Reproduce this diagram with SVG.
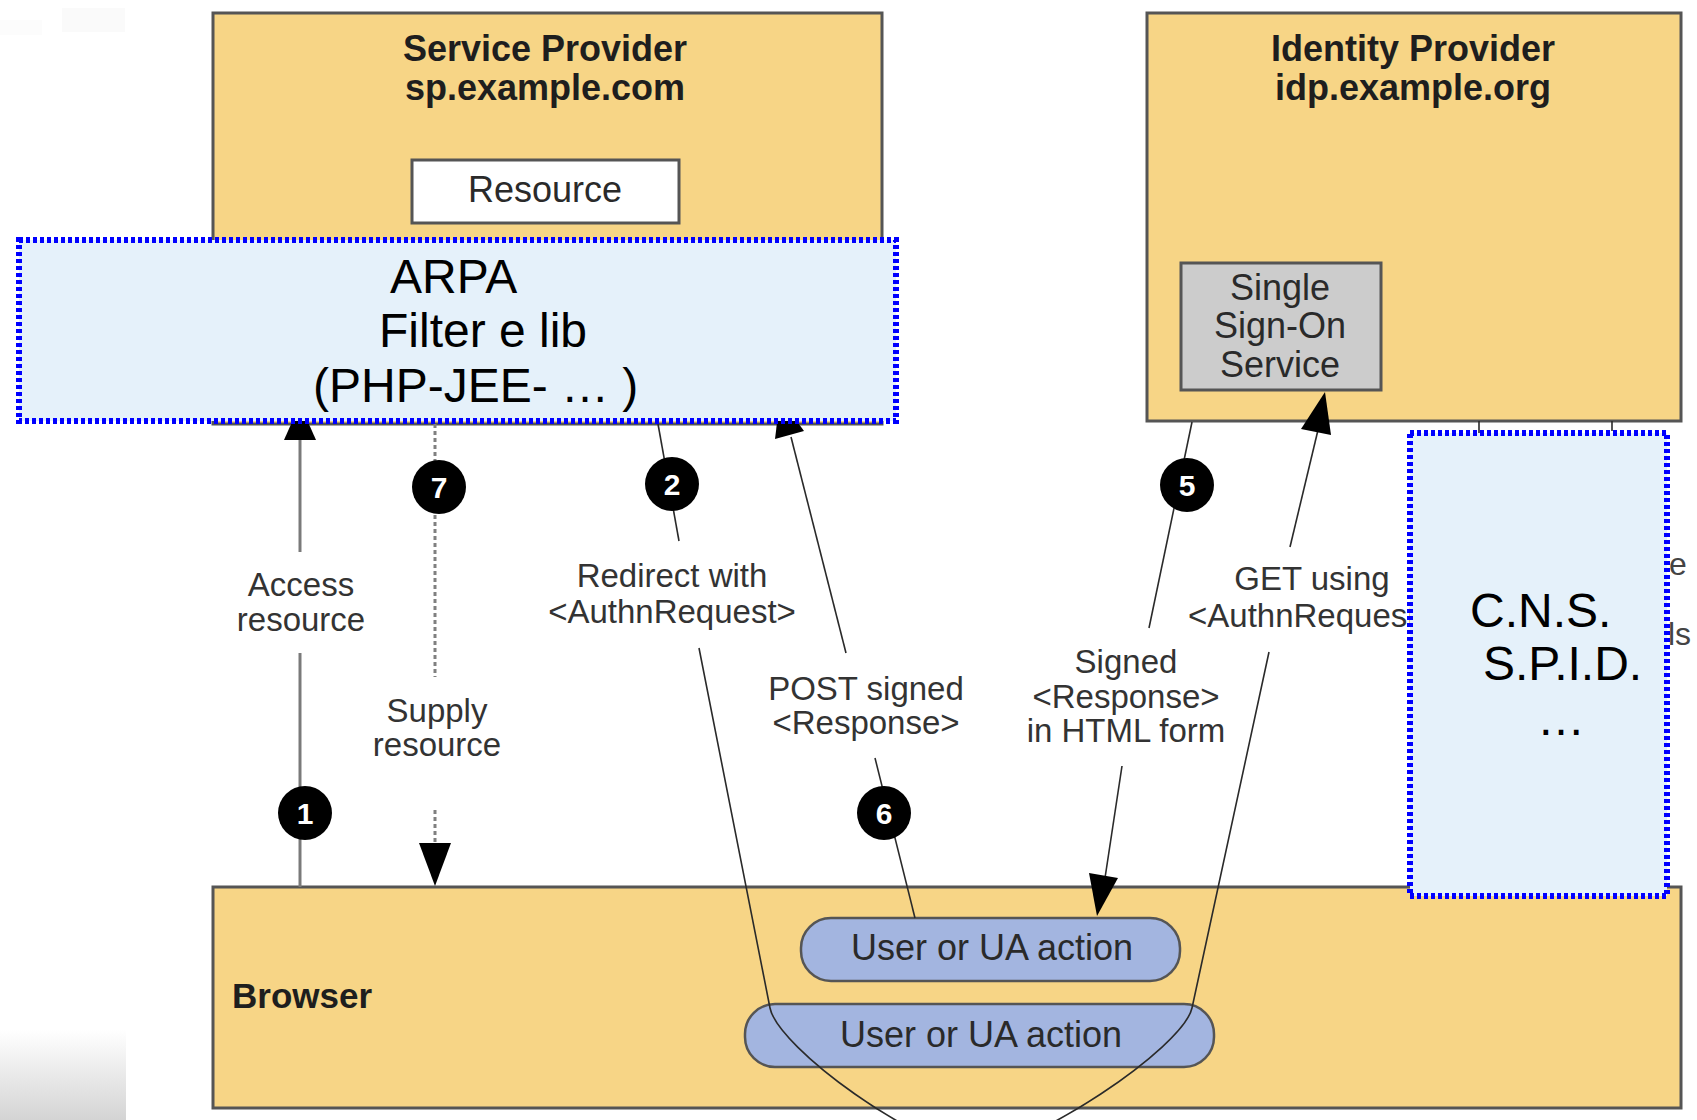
<svg xmlns="http://www.w3.org/2000/svg" width="1697" height="1120" viewBox="0 0 1697 1120">
<defs>
<style>
.t{font-family:"Liberation Sans",Arial,Helvetica,sans-serif}
.box{fill:#f7d586;stroke:#555555;stroke-width:3}
.title{font-size:36px;font-weight:bold;fill:#1e1e1e;text-anchor:middle}
.lbl{font-size:33px;fill:#333333;text-anchor:middle}
.lbls{font-size:33px;fill:#333333;text-anchor:start}
.pill{fill:#a3b5e0;stroke:#555555;stroke-width:2.5}
.pilltxt{font-size:36px;fill:#2a2a2a;text-anchor:middle}
.blue{fill:#e5f1fa;stroke:#0000ff;stroke-width:6;stroke-dasharray:4 3}
.big{font-size:48px;fill:#000000}
.ln{fill:none;stroke:#2a2a2a;stroke-width:1.6}
.gray{fill:none;stroke:#7a7a7a;stroke-width:3}
.dash{fill:none;stroke:#808080;stroke-width:3;stroke-dasharray:4 3}
.head{fill:#000000}
.num circle{fill:#000000}
.num text{font-size:30px;font-weight:bold;fill:#ffffff;text-anchor:middle}
</style>
<linearGradient id="fade" x1="0" y1="0" x2="0" y2="1">
<stop offset="0" stop-color="#ffffff"/>
<stop offset="1" stop-color="#d4d4d4"/>
</linearGradient>
</defs>

<rect x="0" y="0" width="1697" height="1120" fill="#ffffff"/>
<rect x="0" y="1030" width="126" height="90" fill="url(#fade)"/>
<rect x="62" y="8" width="63" height="24" fill="#fafafa"/>
<rect x="0" y="20" width="42" height="15" fill="#fcfcfc"/>

<g id="sp">
<rect class="box" x="213" y="13" width="669" height="411"/>
<text class="t title" x="545" y="61">Service Provider</text>
<text class="t title" x="545" y="100">sp.example.com</text>
</g>
<g id="resource">
<rect x="412" y="160" width="267" height="63" fill="#ffffff" stroke="#555555" stroke-width="3"/>
<text class="t" x="545" y="202" font-size="36" fill="#2a2a2a" text-anchor="middle">Resource</text>
</g>

<g id="idp">
<rect class="box" x="1147" y="13" width="534" height="408"/>
<text class="t title" x="1413" y="61">Identity Provider</text>
<text class="t title" x="1413" y="100">idp.example.org</text>
</g>
<g id="sso">
<rect x="1181" y="263" width="200" height="127" fill="#cccccc" stroke="#555555" stroke-width="3"/>
<text class="t" x="1280" y="300" font-size="36" fill="#2a2a2a" text-anchor="middle">Single</text>
<text class="t" x="1280" y="338" font-size="36" fill="#2a2a2a" text-anchor="middle">Sign-On</text>
<text class="t" x="1280" y="377" font-size="36" fill="#2a2a2a" text-anchor="middle">Service</text>
</g>

<g id="browser">
<rect class="box" x="213" y="887" width="1468" height="221"/>
<text class="t" x="232" y="1008" font-size="35" font-weight="bold" fill="#1e1e1e">Browser</text>
</g>
<g id="ua1">
<rect class="pill" x="801" y="918" width="379" height="63" rx="30" ry="30"/>
<text class="t pilltxt" x="992" y="960">User or UA action</text>
</g>
<g id="ua2">
<rect class="pill" x="745" y="1004" width="469" height="63" rx="30" ry="30"/>
<text class="t pilltxt" x="981" y="1047">User or UA action</text>
</g>

<g id="connectors">
<line class="gray" x1="300" y1="887" x2="300" y2="653"/>
<line class="gray" x1="300" y1="552" x2="300" y2="436"/>
<polygon class="head" points="300,404 316,440 284,440"/>
<line class="dash" x1="435" y1="424" x2="435" y2="677"/>
<line class="dash" x1="435" y1="810" x2="435" y2="846"/>
<polygon class="head" points="435,886 419,843 451,843"/>
<line class="ln" x1="658" y1="424" x2="679" y2="541"/>
<path class="ln" d="M 699,648 L 770,1008 C 778,1048 920,1150 975,1150 C 1030,1150 1183,1048 1192,1008 L 1269,652"/>
<line class="ln" x1="1290" y1="547" x2="1318" y2="430"/>
<polygon class="head" points="1325,392 1331,435 1301,429"/>
<line class="ln" x1="915" y1="918" x2="875" y2="758"/>
<line class="ln" x1="846" y1="653" x2="791" y2="437"/>
<polygon class="head" points="780,398 804,431 775,439"/>
<line class="ln" x1="1192" y1="422" x2="1149" y2="628"/>
<line class="ln" x1="1122" y1="766" x2="1105" y2="878"/>
<polygon class="head" points="1097,916 1118,878 1089,873"/>
<line class="ln" x1="1479" y1="421" x2="1479" y2="433"/>
<line class="ln" x1="1612" y1="421" x2="1612" y2="431"/>
</g>

<g id="labels">
<text class="t lbl" x="301" y="596">Access</text>
<text class="t lbl" x="301" y="631">resource</text>
<text class="t lbl" x="437" y="722">Supply</text>
<text class="t lbl" x="437" y="756">resource</text>
<text class="t lbl" x="672" y="587">Redirect with</text>
<text class="t lbl" x="672" y="623">&lt;AuthnRequest&gt;</text>
<text class="t lbl" x="866" y="700">POST signed</text>
<text class="t lbl" x="866" y="734">&lt;Response&gt;</text>
<text class="t lbl" x="1126" y="673">Signed</text>
<text class="t lbl" x="1126" y="708">&lt;Response&gt;</text>
<text class="t lbl" x="1126" y="742">in HTML form</text>
<text class="t lbl" x="1312" y="590">GET using</text>
<text class="t lbls" x="1188" y="627">&lt;AuthnRequest&gt;</text>
<text class="t" x="1669" y="575" font-size="32" fill="#444444">e</text>
<text class="t" x="1668" y="645" font-size="32" fill="#444444">ls</text>
</g>

<g id="n1" class="num"><circle cx="305" cy="813" r="27"/><text class="t" x="305" y="824">1</text></g>
<g id="n7" class="num"><circle cx="439" cy="487" r="27"/><text class="t" x="439" y="498">7</text></g>
<g id="n2" class="num"><circle cx="672" cy="484" r="27"/><text class="t" x="672" y="495">2</text></g>
<g id="n6" class="num"><circle cx="884" cy="813" r="27"/><text class="t" x="884" y="824">6</text></g>
<g id="n5" class="num"><circle cx="1187" cy="485" r="27"/><text class="t" x="1187" y="496">5</text></g>

<g id="arpa">
<rect class="blue" x="19" y="240" width="877" height="181"/>
<text class="t big" x="390" y="293">ARPA</text>
<text class="t big" x="379" y="347">Filter e lib</text>
<text class="t big" x="313" y="402">(PHP-JEE- … )</text>
</g>

<g id="cns">
<rect class="blue" x="1410" y="433" width="257" height="463"/>
<text class="t big" x="1470" y="627">C.N.S.</text>
<text class="t big" x="1483" y="680">S.P.I.D.</text>
<text class="t big" x="1561" y="735" text-anchor="middle">…</text>
</g>
</svg>
